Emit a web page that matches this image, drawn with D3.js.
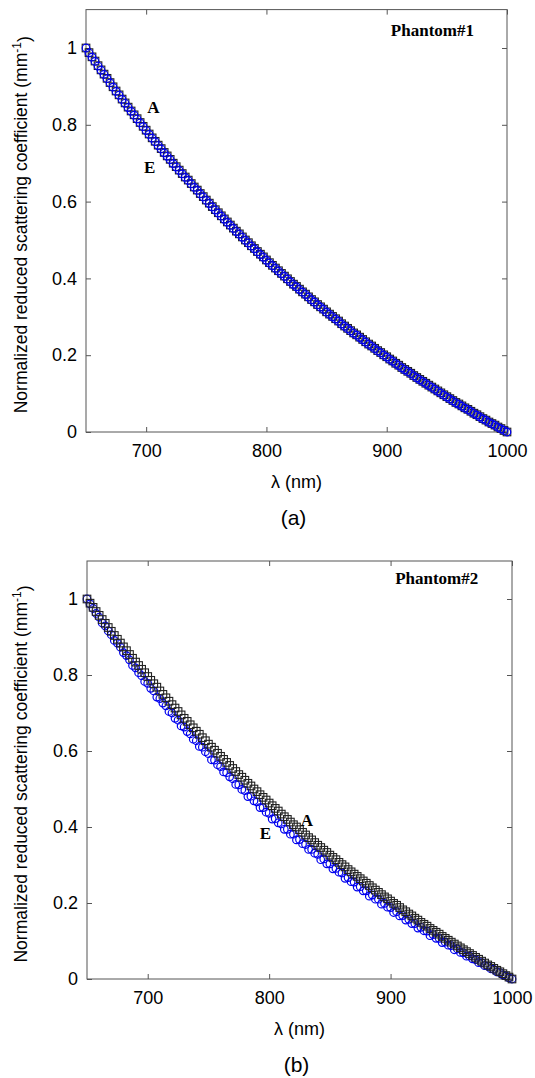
<!DOCTYPE html>
<html>
<head>
<meta charset="utf-8">
<script src="https://cdn.jsdelivr.net/npm/d3@7"></script>
<style>
  body { margin: 0; background: #fff; }
  svg { display: block; }
  .tick text { font-family: "Liberation Sans", Arial, sans-serif; font-size: 18px; fill: #000; }
  .tick line, .domain { stroke: #555; }
</style>
</head>
<body>
<div id="chart"></div>
<script>
// wavelength grid (nm), one sample every 2.5 nm
const wavelengths = d3.range(650, 1000.01, 2.5);

const xTicks = [700, 800, 900, 1000];
const yTicks = [0, 0.2, 0.4, 0.6, 0.8, 1];

// Phantom#1 : A (black squares), E (blue circles)
const phantom1A = [1.000,.988,.977,.966,.954,.943,.932,.921,.910,.899,.888,.878,.867,.857,.846,.836,.826,.816,.806,.796,.786,
  .776,.766,.757,.747,.738,.728,.719,.710,.700,.691,
  .682,.673,.664,.656,.647,.638,.630,.621,.613,.604,
  .596,.587,.579,.571,.563,.555,.547,.539,.531,.523,
  .516,.508,.500,.493,.485,.478,.470,.463,.456,.448,
  .441,.434,.427,.420,.413,.406,.399,.392,.385,.379,
  .372,.365,.359,.352,.345,.339,.332,.326,.320,.313,
  .307,.301,.295,.289,.282,.276,.270,.264,.258,.253,
  .247,.241,.235,.229,.224,.218,.212,.207,.201,.196,
  .190,.185,.179,.174,.168,.163,.158,.153,.147,.142,
  .137,.132,.127,.122,.117,.112,.107,.102,.097,.092,
  .087,.082,.077,.073,.068,.063,.059,.054,.049,.045,
  .040,.035,.031,.026,.022,.018,.013,.009,.004,.000];

const phantom1E = [1.000,.987,.976,.965,.953,.942,.931,.920,.909,.898,.887,.877,.866,.856,.845,.835,.825,.815,.805,.795,.785,
  .775,.765,.756,.746,.737,.727,.718,.709,.699,.690,
  .681,.672,.663,.655,.646,.637,.629,.620,.612,.603,
  .595,.586,.578,.570,.562,.554,.546,.538,.530,.522,
  .515,.507,.499,.492,.484,.477,.469,.462,.455,.447,
  .440,.433,.426,.419,.412,.405,.398,.391,.384,.378,
  .371,.364,.358,.351,.344,.338,.331,.325,.319,.312,
  .306,.300,.294,.288,.281,.275,.269,.263,.257,.252,
  .246,.240,.234,.228,.223,.217,.211,.206,.200,.195,
  .189,.184,.178,.173,.167,.162,.157,.152,.146,.141,
  .136,.131,.126,.121,.116,.111,.106,.101,.096,.091,
  .086,.081,.076,.072,.067,.062,.058,.053,.048,.044,
  .039,.034,.030,.025,.021,.017,.012,.008,.004,.000];

// Phantom#2 : A (black squares), E (blue circles)
const phantom2A = [1.000,.989,.978,.967,.957,.946,.936,.925,.915,.904,.894,.884,.874,.864,.854,.844,.834,.825,.815,.806,.796,
  .786,.777,.768,.758,.749,.740,.731,.722,.713,.704,
  .695,.686,.678,.669,.661,.652,.644,.635,.627,.618,
  .610,.602,.594,.586,.578,.570,.562,.554,.546,.538,
  .531,.523,.515,.508,.500,.493,.485,.478,.471,.463,
  .456,.449,.442,.434,.427,.420,.413,.406,.400,.393,
  .386,.379,.372,.366,.359,.352,.346,.339,.333,.326,
  .320,.314,.307,.301,.295,.288,.282,.276,.270,.264,
  .258,.252,.246,.240,.234,.228,.222,.216,.211,.205,
  .199,.194,.188,.182,.177,.171,.166,.160,.155,.149,
  .144,.139,.133,.128,.123,.118,.112,.107,.102,.097,
  .092,.087,.082,.077,.072,.067,.062,.057,.052,.047,
  .042,.037,.033,.028,.023,.019,.014,.009,.005,.000];

const phantom2E = [1.000,.987,.975,.962,.952,.937,.929,.916,.906,.891,.884,.873,.859,.851,.840,.825,.819,.806,.798,.783,.778,
  .765,.758,.742,.738,.726,.719,.704,.700,.686,.681,
  .666,.663,.651,.645,.631,.627,.612,.610,.598,.593,
  .577,.576,.564,.559,.545,.543,.532,.527,.512,.511,
  .499,.496,.480,.481,.469,.466,.451,.451,.439,.436,
  .421,.422,.411,.408,.394,.394,.381,.381,.366,.367,
  .356,.354,.341,.341,.331,.328,.314,.316,.303,.303,
  .290,.291,.281,.279,.265,.267,.256,.255,.242,.243,
  .232,.232,.218,.221,.210,.210,.197,.199,.189,.188,
  .175,.177,.166,.167,.155,.157,.146,.146,.134,.136,
  .127,.126,.114,.117,.107,.107,.096,.097,.089,.088,
  .077,.079,.070,.069,.060,.060,.053,.051,.043,.043,
  .035,.034,.027,.025,.019,.017,.011,.008,.003,.000];

const W = 535, H = 1078;

let svg = d3.select("#chart")
  .append("svg")
  .attr("width", W)
  .attr("height", H);

function drawPanel(p) {
  let x = d3.scaleLinear().domain([650, 1000]).range([p.left, p.right]);
  let y = d3.scaleLinear().domain([0, 1.1]).range([p.bottom, p.bottom - 1.1 * p.unit]);

  let g = svg.append("g");

  // box
  g.append("rect")
    .attr("x", x(650)).attr("y", y(1.1))
    .attr("width", x(1000) - x(650)).attr("height", y(0) - y(1.1))
    .attr("fill", "none").attr("stroke", "#555").attr("stroke-width", 1);

  g.append("g")
    .attr("transform", "translate(0," + y(0) + ")")
    .call(d3.axisBottom(x).tickValues(xTicks).tickSize(-5).tickSizeOuter(0).tickPadding(12).tickFormat(d => d))
    .call(a => a.select(".domain").remove());
  g.append("g")
    .attr("transform", "translate(0," + y(1.1) + ")")
    .call(d3.axisTop(x).tickValues(xTicks).tickSize(-5).tickSizeOuter(0).tickFormat(""))
    .call(a => a.select(".domain").remove());
  g.append("g")
    .attr("transform", "translate(" + x(650) + ",0)")
    .call(d3.axisLeft(y).tickValues(yTicks).tickSize(-5).tickSizeOuter(0).tickPadding(9).tickFormat(d => d))
    .call(a => a.select(".domain").remove());
  g.append("g")
    .attr("transform", "translate(" + x(1000) + ",0)")
    .call(d3.axisRight(y).tickValues(yTicks).tickSize(-5).tickSizeOuter(0).tickFormat(""))
    .call(a => a.select(".domain").remove());

  let sq = wavelengths.map((w, i) => ({ w: w, v: p.A[i] }));
  let ci = wavelengths.map((w, i) => ({ w: w, v: p.E[i] }));

  function squares(sel) {
    sel.append("g").selectAll("rect")
      .data(sq).enter().append("rect")
      .attr("x", d => x(d.w) - 3.8).attr("y", d => y(d.v) - 3.8)
      .attr("width", 7.6).attr("height", 7.6)
      .attr("fill", "none").attr("stroke", "#222").attr("stroke-width", 1.1);
  }
  function circles(sel) {
    sel.append("g").selectAll("circle")
      .data(ci).enter().append("circle")
      .attr("cx", d => x(d.w)).attr("cy", d => y(d.v))
      .attr("r", 3.8)
      .attr("fill", "none").attr("stroke", "#0000ee").attr("stroke-width", 1.2);
  }
  if (p.blueOnTop) { squares(g); circles(g); } else { circles(g); squares(g); }

  // annotations
  g.append("text")
    .attr("x", x(p.title[0])).attr("y", y(p.title[1]))
    .attr("text-anchor", "middle")
    .style("font-family", "'Liberation Serif', 'Times New Roman', serif")
    .style("font-weight", "bold").style("font-size", "17px")
    .text(p.name);
  p.labels.forEach(l => {
    g.append("text")
      .attr("x", x(l.w)).attr("y", y(l.v))
      .attr("text-anchor", "middle").attr("dy", "0.35em")
      .style("font-family", "'Liberation Serif', 'Times New Roman', serif")
      .style("font-weight", "bold").style("font-size", "17px")
      .text(l.t);
  });

  // axis titles
  g.append("text")
    .attr("x", (x(650) + x(1000)) / 2).attr("y", y(0) + 56)
    .attr("text-anchor", "middle")
    .style("font-family", "'Liberation Sans', Arial, sans-serif").style("font-size", "18px")
    .text("\u03bb (nm)");

  let yl = g.append("text")
    .attr("transform", "translate(27," + ((y(0) + y(1.1)) / 2 + 4) + ") rotate(-90)")
    .attr("text-anchor", "middle")
    .style("font-family", "'Liberation Sans', Arial, sans-serif").style("font-size", "17.5px");
  yl.append("tspan").text("Normalized reduced scattering coefficient (mm");
  yl.append("tspan").attr("dy", "-0.5em").style("font-size", "12px").text("-1");
  yl.append("tspan").attr("dy", "0.5em").text(")");

  g.append("text")
    .attr("x", (x(650) + x(1000)) / 2 - 3).attr("y", y(0) + 93)
    .attr("text-anchor", "middle")
    .style("font-family", "'Liberation Sans', Arial, sans-serif").style("font-size", "21px")
    .text(p.caption);
}

drawPanel({
  left: 86, right: 507, bottom: 432, unit: 384,
  A: phantom1A, E: phantom1E, blueOnTop: true,
  name: "Phantom#1", title: [938, 1.03],
  labels: [{ t: "A", w: 706, v: 0.845 }, { t: "E", w: 703, v: 0.69 }],
  caption: "(a)"
});

drawPanel({
  left: 87, right: 512, bottom: 979, unit: 380,
  A: phantom2A, E: phantom2E, blueOnTop: false,
  name: "Phantom#2", title: [938, 1.04],
  labels: [{ t: "A", w: 831, v: 0.418 }, { t: "E", w: 797, v: 0.384 }],
  caption: "(b)"
});
</script>
</body>
</html>
